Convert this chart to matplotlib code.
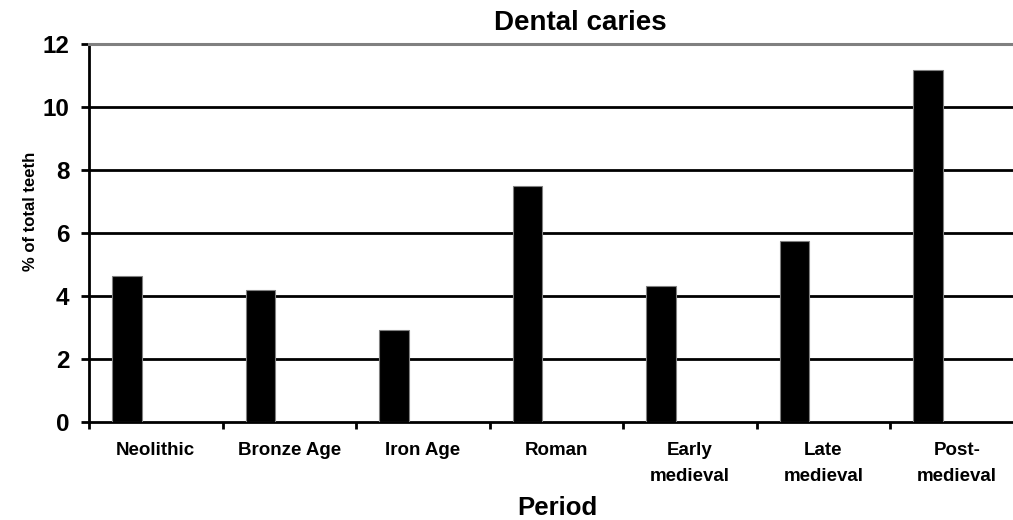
import numpy as np
import matplotlib
matplotlib.use("Agg")
import matplotlib.pyplot as plt

periods = ["Neolithic", "Bronze Age", "Iron Age", "Roman",
           "Early\nmedieval", "Late\nmedieval", "Post-\nmedieval"]
caries = [4.62, 4.18, 2.92, 7.49, 4.29, 5.72, 11.16]
yticks = [0, 2, 4, 6, 8, 10, 12]

plt.rcParams['font.family'] = ['Liberation Sans', 'DejaVu Sans']
plt.rcParams['font.weight'] = 'bold'

fig = plt.figure(figsize=(10.13, 5.2), dpi=100)
# plot area runs a bit past the right edge, as in the original
ax = fig.add_axes([0.0879, 0.1894, 0.9225, 0.7269])

x = np.arange(len(periods))
ax.bar(x + 0.285, caries, width=0.22, color='black', edgecolor='#808080',
       linewidth=0.8, zorder=3)

ax.set_xlim(0, len(periods))
ax.set_ylim(0, 12)

# gridlines
for v in yticks[1:-1]:
    ax.axhline(v, color='black', linewidth=2, zorder=1)

ax.spines['right'].set_visible(False)
ax.spines['top'].set_color('#808080')
ax.spines['top'].set_linewidth(2.2)
ax.spines['left'].set_linewidth(2)
ax.spines['bottom'].set_linewidth(2)

ax.set_yticks(yticks)
ax.set_yticklabels([str(v) for v in yticks], fontsize=17.5, fontweight='bold')
ax.tick_params(axis='y', direction='out', length=6, width=2, pad=8)

ax.set_xticks(np.arange(len(periods) + 1))
ax.set_xticklabels([])
ax.tick_params(axis='x', which='major', direction='out', length=5, width=2)
ax.set_xticks(x + 0.5, minor=True)
ax.set_xticklabels(periods, minor=True, fontsize=13.5, fontweight='bold',
                   linespacing=1.7, va='top')
ax.tick_params(axis='x', which='minor', length=0, pad=15)

fig.text(0.573, 0.956, "Dental caries", ha='center', va='center',
         fontsize=20, fontweight='bold')
fig.text(0.55, 0.023, "Period", ha='center', va='center',
         fontsize=18.5, fontweight='bold')
fig.text(0.03, 0.593, "% of total teeth", ha='center', va='center',
         rotation=90, fontsize=12, fontweight='bold')

fig.savefig("out.png", dpi=100)
